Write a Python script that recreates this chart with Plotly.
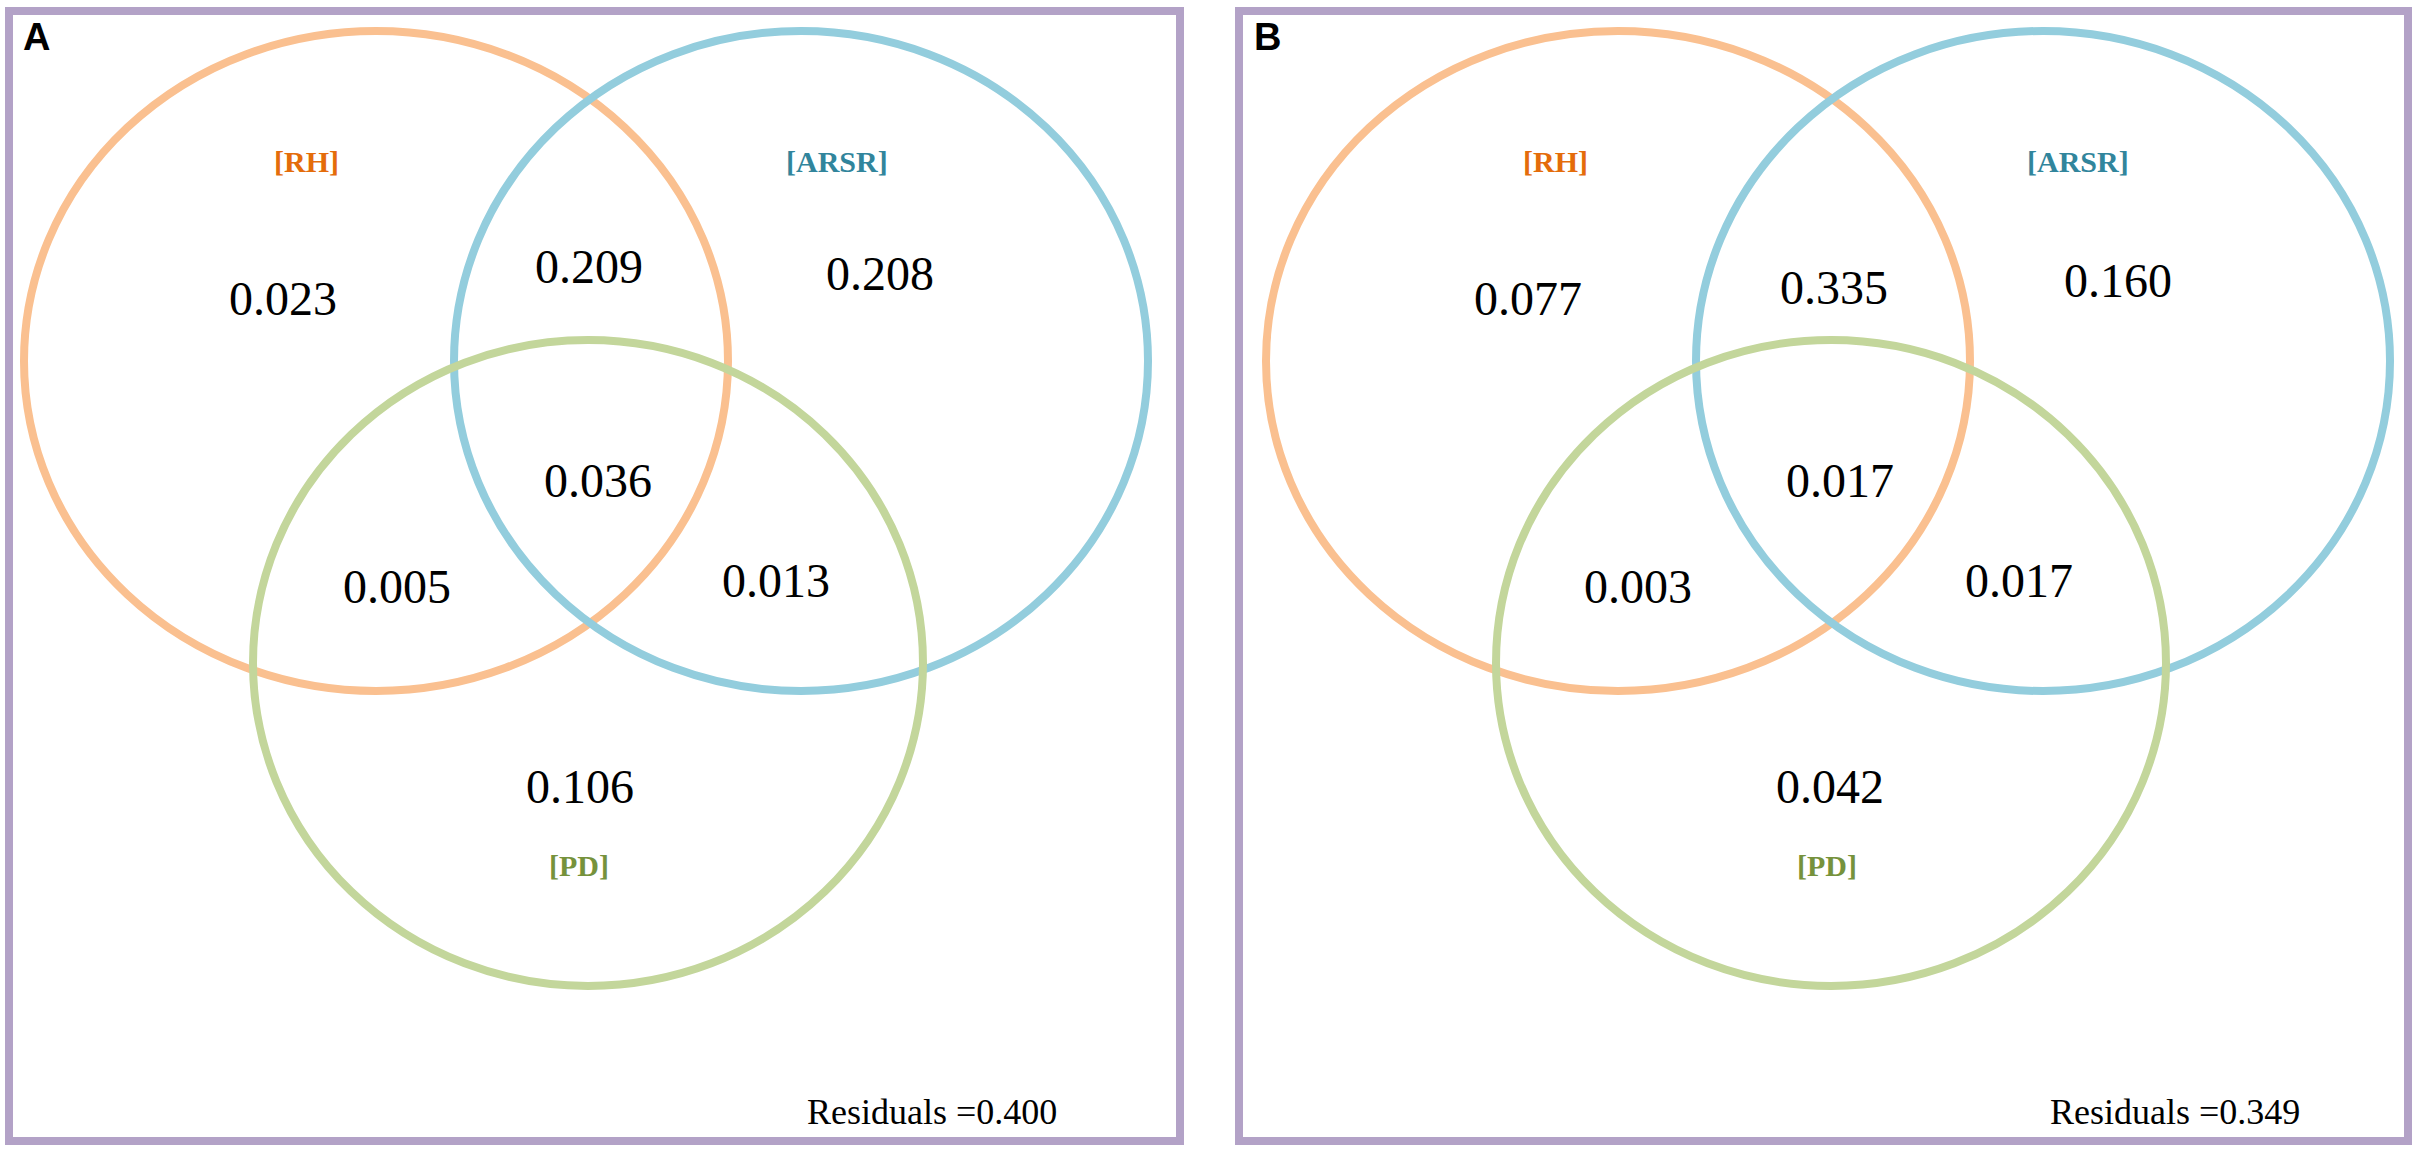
import plotly.graph_objects as go

# ---------------- data ----------------
set_names = ["[RH]", "[ARSR]", "[PD]"]
panel_labels = ["A", "B"]
# region order: RH only, ARSR only, PD only, RH&ARSR, RH&PD, ARSR&PD, RH&ARSR&PD
values_A = [0.023, 0.208, 0.106, 0.209, 0.005, 0.013, 0.036]
values_B = [0.077, 0.160, 0.042, 0.335, 0.003, 0.017, 0.017]
residuals = [0.400, 0.349]

# ---------------- layout constants (pixels, panel-local) ----------------
W, H = 2422, 1150
frame_left = [9, 1239]
frame_top = 11
frame_size = [(1171, 1130), (1169, 1130)]
# circle geometry per panel: (cx, cy, rx, ry) for RH, ARSR, PD
circles = [
    [(367, 350, 352, 330), (792, 350, 347, 330), (579, 652, 335, 323)],
    [(379, 350, 352, 330), (804, 350, 347, 330), (592, 652, 335, 323)],
]
region_pos = [
    [(274, 287), (871, 262), (571, 775), (580, 255), (388, 575), (767, 569), (589, 469)],
    [(289, 287), (879, 269), (591, 775), (595, 276), (399, 575), (780, 569), (601, 469)],
]
set_label_pos = [
    [(297, 150), (828, 150), (570, 854)],
    [(316, 150), (839, 150), (588, 854)],
]
residual_pos = [(923, 1101), (936, 1101)]
panel_label_pos = [(12, 26), (13, 26)]

circle_colors = ["#FAC090", "#93CDDD", "#C3D69B"]
label_colors = ["#E46C0A", "#31859C", "#76923C"]
frame_color = "#B3A2C7"
serif = "Liberation Serif, Times New Roman, serif"
sans = "Liberation Sans, Arial, sans-serif"

fig = go.Figure()
panel_values = [values_A, values_B]

for p in range(2):
    xa = "x" if p == 0 else "x2"
    ya = "y" if p == 0 else "y2"
    dom = [0, 0.5] if p == 0 else [0.5, 1]
    x_start_px = dom[0] * W
    x_end_px = dom[1] * W
    xr = [x_start_px - frame_left[p], x_end_px - frame_left[p]]
    yr = [H - frame_top, -frame_top]
    axis_kw = dict(visible=False, showgrid=False, zeroline=False, fixedrange=True)
    xkey = "xaxis" if p == 0 else "xaxis2"
    ykey = "yaxis" if p == 0 else "yaxis2"
    fig.update_layout({
        xkey: dict(domain=dom, range=xr, anchor=ya, **axis_kw),
        ykey: dict(domain=[0, 1], range=yr, anchor=xa, **axis_kw),
    })
    # invisible trace so the axes exist
    fig.add_trace(go.Scatter(x=[0], y=[0], mode="markers", marker=dict(opacity=0),
                             xaxis=xa, yaxis=ya, showlegend=False, hoverinfo="skip"))
    # frame
    fw, fh = frame_size[p]
    fig.add_shape(type="rect", xref=xa, yref=ya, x0=0, y0=0, x1=fw, y1=fh,
                  line=dict(color=frame_color, width=8), fillcolor="rgba(0,0,0,0)")
    # circles
    for (cx, cy, rx, ry), col in zip(circles[p], circle_colors):
        fig.add_shape(type="circle", xref=xa, yref=ya,
                      x0=cx - rx, x1=cx + rx, y0=cy - ry, y1=cy + ry,
                      line=dict(color=col, width=8), fillcolor="rgba(0,0,0,0)")
    # set labels
    for name, (lx, ly), col in zip(set_names, set_label_pos[p], label_colors):
        fig.add_annotation(x=lx, y=ly, xref=xa, yref=ya, text=f"<b>{name}</b>",
                           showarrow=False, xanchor="center", yanchor="middle",
                           font=dict(family=serif, size=30, color=col))
    # region values
    for v, (tx, ty) in zip(panel_values[p], region_pos[p]):
        fig.add_annotation(x=tx, y=ty, xref=xa, yref=ya, text=f"{v:.3f}",
                           showarrow=False, xanchor="center", yanchor="middle",
                           font=dict(family=serif, size=48, color="black"))
    # residuals
    rx_, ry_ = residual_pos[p]
    fig.add_annotation(x=rx_, y=ry_, xref=xa, yref=ya, text=f"Residuals ={residuals[p]:.3f}",
                       showarrow=False, xanchor="center", yanchor="middle",
                       font=dict(family=serif, size=36, color="black"))
    # panel label
    px_, py_ = panel_label_pos[p]
    fig.add_annotation(x=px_, y=py_, xref=xa, yref=ya, text=f"<b>{panel_labels[p]}</b>",
                       showarrow=False, xanchor="left", yanchor="middle",
                       font=dict(family=sans, size=38, color="black"))

fig.update_layout(
    width=W, height=H,
    margin=dict(l=0, r=0, t=0, b=0, pad=0),
    paper_bgcolor="white", plot_bgcolor="white",
    showlegend=False,
)

fig.write_html(
    "out.html",
    config={"displayModeBar": False, "staticPlot": True},
    post_script="document.body.style.margin='0';document.body.style.overflow='hidden';",
)
